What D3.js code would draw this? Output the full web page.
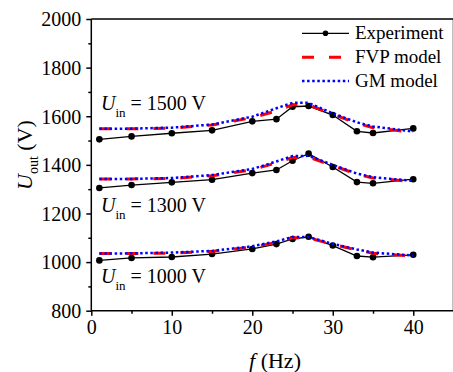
<!DOCTYPE html>
<html>
<head>
<meta charset="utf-8">
<script src="https://cdn.jsdelivr.net/npm/d3@7/dist/d3.min.js"></script>
<style>
  html, body { margin: 0; padding: 0; background: #fff; }
  svg { display: block; }
  text { font-family: "Liberation Serif", "Times New Roman", serif; fill: #000; }
</style>
</head>
<body>
<svg id="chart" width="453" height="372"></svg>
<script>
// Output voltage vs. modulation frequency for three input voltages
const freq = [1, 5, 10, 15, 20, 23, 25, 27, 30, 33, 35, 40];

const exp1500 = [1505, 1517, 1530, 1542, 1579, 1588, 1639, 1642, 1605, 1538, 1531, 1550];
const fvp1500 = [1548, 1548, 1551, 1564, 1594, 1622, 1647, 1647, 1608, 1571, 1553, 1534];
const gm1500  = [1548, 1549, 1553, 1566, 1598, 1633, 1655, 1655, 1612, 1575, 1558, 1537];

const exp1300 = [1305, 1317, 1328, 1339, 1366, 1379, 1417, 1446, 1391, 1329, 1324, 1341];
const fvp1300 = [1342, 1342, 1344, 1355, 1380, 1408, 1430, 1432, 1397, 1362, 1346, 1331];
const gm1300  = [1342, 1342, 1346, 1358, 1383, 1414, 1436, 1437, 1400, 1364, 1349, 1334];

const exp1000 = [1007, 1017, 1021, 1033, 1054, 1074, 1095, 1104, 1068, 1025, 1020, 1030];
const fvp1000 = [1035, 1035, 1037, 1044, 1062, 1081, 1100, 1100, 1073, 1050, 1036, 1025];
const gm1000  = [1035, 1036, 1039, 1046, 1065, 1085, 1103, 1103, 1075, 1052, 1039, 1027];

const inputLabels = ["1500", "1300", "1000"];
const xTicks = [0, 10, 20, 30, 40];
const xMinorTicks = [5, 15, 25, 35];
const yTicks = [800, 1000, 1200, 1400, 1600, 1800, 2000];
const yMinorTicks = [900, 1100, 1300, 1500, 1700, 1900];
const legendNames = ["Experiment", "FVP model", "GM model"];

const svg = d3.select("#chart");
const x = d3.scaleLinear().domain([0, 45]).range([91.3, 453.5]);
const y = d3.scaleLinear().domain([800, 2000]).range([310.7, 19]);

const styles = {
  exp: { stroke: "#000", width: 1.3, dash: null },
  fvp: { stroke: "#ff0000", width: 3, dash: "12,15" },
  gm:  { stroke: "#0000ff", width: 2.5, dash: "2.5,2.6" }
};

// Frame: left, bottom and top border
const frame = svg.append("g").attr("fill", "none").attr("stroke", "#000").attr("stroke-width", 1.5);
frame.append("line").attr("x1", x(0)).attr("x2", x(0)).attr("y1", y(800)).attr("y2", y(2000));
frame.append("line").attr("x1", x(0)).attr("x2", x(45)).attr("y1", y(800)).attr("y2", y(800));
frame.append("line").attr("x1", x(0)).attr("x2", x(45)).attr("y1", y(2000)).attr("y2", y(2000));
frame.append("line").attr("x1", x(45)).attr("x2", x(45)).attr("y1", y(800)).attr("y2", y(2000));

// Axes
const xAxis = svg.append("g").attr("transform", `translate(0,${y(800)})`)
  .call(d3.axisBottom(x).tickValues(xTicks).tickSize(5).tickPadding(3).tickFormat(d3.format("d")));
const xMinor = svg.append("g").attr("transform", `translate(0,${y(800)})`)
  .call(d3.axisBottom(x).tickValues(xMinorTicks).tickSize(3).tickFormat(""));
const yAxis = svg.append("g").attr("transform", `translate(${x(0)},0)`)
  .call(d3.axisLeft(y).tickValues(yTicks).tickSize(5).tickPadding(5).tickFormat(d3.format("d")));
const yMinor = svg.append("g").attr("transform", `translate(${x(0)},0)`)
  .call(d3.axisLeft(y).tickValues(yMinorTicks).tickSize(3).tickFormat(""));

[xAxis, xMinor, yAxis, yMinor].forEach(g => {
  g.select(".domain").remove();
  g.selectAll(".tick line").attr("stroke", "#000").attr("stroke-width", 1.5);
  g.selectAll(".tick text")
    .style("font-family", '"Liberation Serif", "Times New Roman", serif')
    .style("font-size", "20px").attr("fill", "#000");
});
xAxis.selectAll(".tick text").attr("dy", "0.78em");
yAxis.selectAll(".tick text").attr("dy", "0.34em");

// Series
const line = d3.line().x(d => x(d[0])).y(d => y(d[1]));
const groups = [
  { exp: exp1500, fvp: fvp1500, gm: gm1500 },
  { exp: exp1300, fvp: fvp1300, gm: gm1300 },
  { exp: exp1000, fvp: fvp1000, gm: gm1000 }
];

const plot = svg.append("g");
groups.forEach(g => {
  ["exp", "fvp", "gm"].forEach(k => {
    const s = styles[k];
    plot.append("path")
      .datum(freq.map((f, i) => [f, g[k][i]]))
      .attr("d", line)
      .attr("fill", "none")
      .attr("stroke", s.stroke)
      .attr("stroke-width", s.width)
      .attr("stroke-dasharray", s.dash);
    if (k === "exp") {
      plot.append("g").selectAll("circle")
        .data(freq.map((f, i) => [f, g.exp[i]]))
        .join("circle")
        .attr("cx", d => x(d[0])).attr("cy", d => y(d[1]))
        .attr("r", 3.3).attr("fill", "#000");
    }
  });
});

// Input voltage annotations
const labelPos = [110, 212, 283];
inputLabels.forEach((v, i) => {
  const t = svg.append("text").attr("x", 101).attr("y", labelPos[i]).style("font-size", "20px");
  t.append("tspan").attr("font-style", "italic").text("U");
  t.append("tspan").style("font-size", "13px").attr("dy", 6.5).text("in");
  t.append("tspan").attr("dy", -6.5).text(` = ${v} V`);
});

// Legend
const legendY = [33.3, 57.3, 81];
const legendKeys = ["exp", "fvp", "gm"];
legendNames.forEach((name, i) => {
  const s = styles[legendKeys[i]];
  svg.append("line")
    .attr("x1", 302).attr("x2", 349).attr("y1", legendY[i]).attr("y2", legendY[i])
    .attr("stroke", s.stroke).attr("stroke-width", s.width).attr("stroke-dasharray", s.dash);
  if (legendKeys[i] === "exp") {
    svg.append("circle").attr("cx", 325.5).attr("cy", legendY[i]).attr("r", 2.8).attr("fill", "#000");
  }
  svg.append("text").attr("x", 355).attr("y", legendY[i] + 5.5)
    .style("font-size", "19px").text(name);
});

// Axis titles
const xt = svg.append("text").attr("x", 275).attr("y", 368)
  .attr("text-anchor", "middle").style("font-size", "22px");
xt.append("tspan").attr("font-style", "italic").text("f");
xt.append("tspan").text(" (Hz)");

const yt = svg.append("text")
  .attr("transform", "translate(32,155) rotate(-90)")
  .attr("text-anchor", "middle").style("font-size", "22px");
yt.append("tspan").attr("font-style", "italic").text("U");
yt.append("tspan").style("font-size", "14px").attr("dy", 6).text("out");
yt.append("tspan").attr("dy", -6).text(" (V)");
</script>
</body>
</html>
